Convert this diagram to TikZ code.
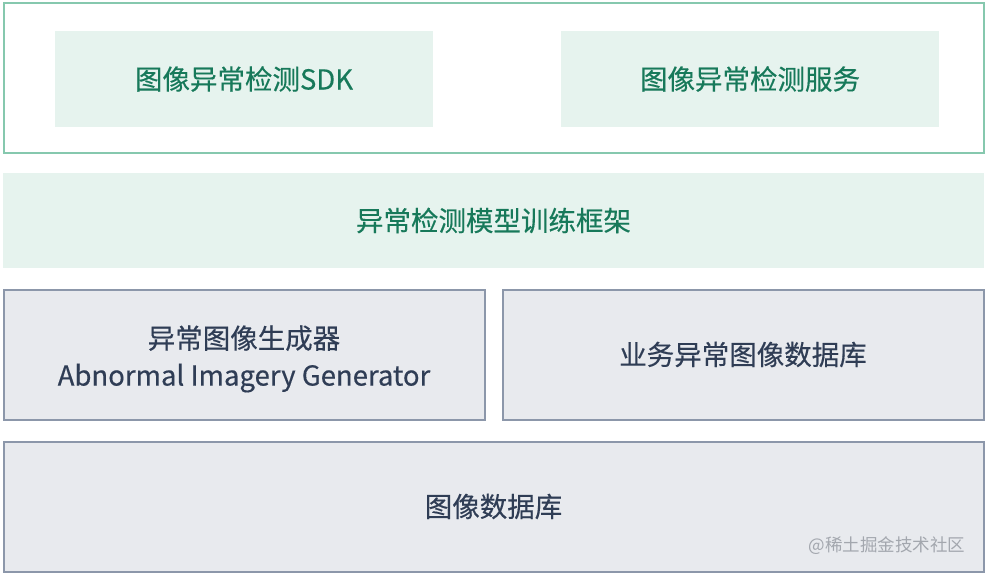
\documentclass[tikz,border=0pt]{standalone}
\usepackage{fontspec}
\setmainfont[FakeBold=0.4]{Noto Sans CJK SC}
\newfontfamily\markfont{Noto Sans CJK SC}
\usepackage{tikz}

\definecolor{framegreen}{HTML}{86C8AE}
\definecolor{boxgreen}{HTML}{E6F3EE}
\definecolor{textgreen}{HTML}{17795A}
\definecolor{boxgrey}{HTML}{E8EAEE}
\definecolor{linegrey}{HTML}{8C97AA}
\definecolor{textgrey}{HTML}{2F3D55}
\definecolor{markgrey}{HTML}{A3A7AE}

\tikzset{
	greenbox/.style={rectangle, fill=boxgreen, text=textgreen, inner sep=0pt, outer sep=0pt},
	greybox/.style={rectangle, draw=linegrey, line width=2pt, fill=boxgrey, text=textgrey, inner sep=0pt, outer sep=0pt, align=center},
	bigfont/.style={font=\fontsize{27.5}{37}\selectfont}
}

\begin{document}
\begin{tikzpicture}[x=1pt,y=-1pt]
	\useasboundingbox (0,0) rectangle (986,574);
	% couche du haut : SDK et service
	\node (F) at (493.5,78) [rectangle, draw=framegreen, line width=2pt, minimum width=980pt, minimum height=150pt] {};
	\node (S) at (244,79) [greenbox, bigfont, minimum width=378pt, minimum height=96pt] {图像异常检测SDK};
	\node (V) at (750,79) [greenbox, bigfont, minimum width=378pt, minimum height=96pt] {图像异常检测服务};
	% cadre d'entrainement
	\node (T) at (493.5,220.5) [greenbox, bigfont, minimum width=981pt, minimum height=95pt] {异常检测模型训练框架};
	% generateur et base metier
	\node (G) at (244,354.5) [greybox, bigfont, minimum width=481pt, minimum height=130pt] {\rule{0pt}{32pt}异常图像生成器\\Abnormal Imagery Generator};
	\node (B) at (743,354.5) [greybox, bigfont, minimum width=481pt, minimum height=130pt] {业务异常图像数据库};
	% base d'images
	\node (D) at (493.5,506.5) [greybox, bigfont, minimum width=980pt, minimum height=130pt] {图像数据库};
	\node (W) at (969,546) [anchor=east, text=markgrey, font=\markfont\fontsize{17.5}{20}\selectfont] {@稀土掘金技术社区};
\end{tikzpicture}
\end{document}
